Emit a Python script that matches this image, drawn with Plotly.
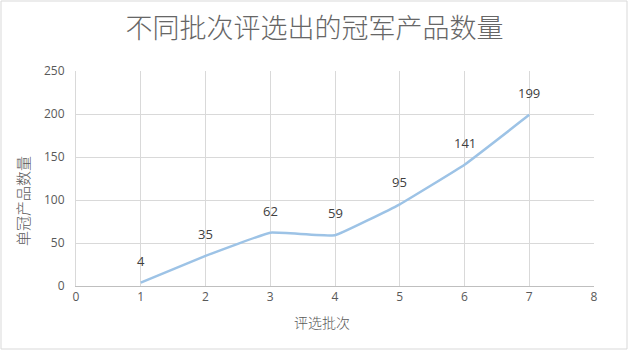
import plotly.graph_objects as go

batches = [1, 2, 3, 4, 5, 6, 7]
counts = [4, 35, 62, 59, 95, 141, 199]
title_text = "不同批次评选出的冠军产品数量"
x_title = "评选批次"
y_title = "单冠产品数量"

W, H = 629, 352
L, R, T, B = 76, 35, 71, 66
pw, ph = W - L - R, H - T - B


def px_x(p):
    return (p - L) / pw


def px_y(p):
    return (H - B - p) / ph


fig = go.Figure()
fig.add_trace(go.Scatter(
    x=batches, y=counts, mode="lines",
    line=dict(color="#9dc3e6", width=2.5, shape="spline", smoothing=0.25),
    hoverinfo="skip", showlegend=False,
))
for xv, yv in zip(batches, counts):
    fig.add_annotation(x=xv, y=yv, text=str(yv), showarrow=False, yshift=22,
                       font=dict(size=13, color="#404040", family="Open Sans, Noto Sans CJK SC"))

fig.add_shape(type="rect", xref="paper", yref="paper",
              x0=px_x(1), x1=px_x(627), y0=px_y(349), y1=px_y(1),
              line=dict(color="#d9d9d9", width=1), layer="below")

# axis titles
fig.add_annotation(xref="paper", yref="paper", x=px_x(322), y=px_y(322),
                   xanchor="center", yanchor="middle", showarrow=False, text=x_title,
                   font=dict(size=14, color="#595959", family="Noto Sans CJK SC", weight=300))
fig.add_annotation(xref="paper", yref="paper", x=px_x(22), y=px_y(201),
                   xanchor="center", yanchor="middle", showarrow=False, text=y_title,
                   textangle=-90,
                   font=dict(size=15, color="#595959", family="Noto Sans CJK SC", weight=300))

fig.update_layout(
    width=W, height=H,
    margin=dict(l=L, r=R, t=T, b=B),
    paper_bgcolor="white", plot_bgcolor="white",
    font=dict(family="Noto Sans CJK SC", color="#595959"),
    title=dict(text=title_text, x=0.5, xanchor="center", y=1 - 29 / H, yanchor="middle",
               font=dict(size=27, color="#666666", family="Noto Sans CJK SC", weight=300)),
    xaxis=dict(range=[0, 8], dtick=1, tick0=0, showgrid=True, gridcolor="#d9d9d9",
               zeroline=False, showline=True, linecolor="#bfbfbf", linewidth=1,
               ticks="", tickfont=dict(size=12, color="#595959", family="Open Sans")),
    yaxis=dict(range=[0, 250], dtick=50, showgrid=True, gridcolor="#d9d9d9",
               zeroline=False, showline=True, linecolor="#d9d9d9", linewidth=1,
               ticks="", ticklabelstandoff=8,
               tickfont=dict(size=12, color="#595959", family="Open Sans")),
)
fig.write_html("out.html")
